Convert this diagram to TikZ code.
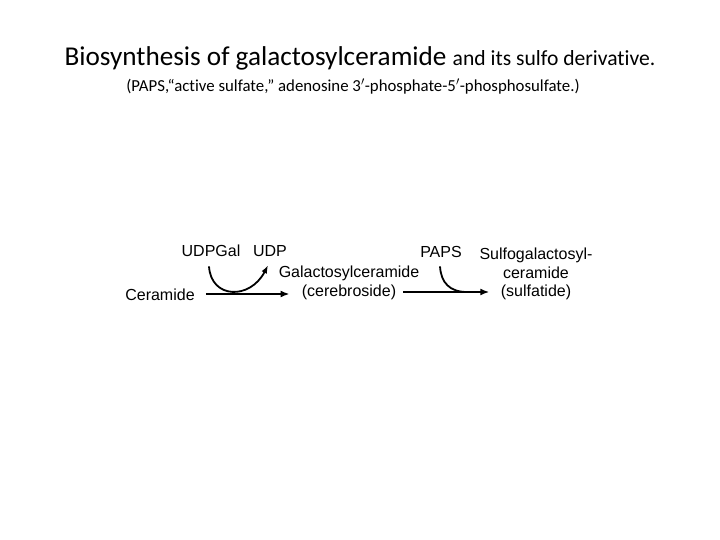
\documentclass[tikz,border=0pt]{standalone}
\usepackage{fontspec}
\setmainfont{Carlito}[Ligatures=NoCommon]
\newfontfamily\arialfont{Liberation Sans}
\usepackage{tikz}
\usetikzlibrary{arrows.meta, positioning, calc}
\definecolor{mydark}{RGB}{0,0,0}
\tikzset{
  cmpd/.style={inner sep=0pt, align=center, font=\arialfont\fontsize{16}{18.5}\selectfont, text=mydark},
  arrow/.style={-{Latex[length=9pt,width=7pt]}, line width=2.4pt, color=mydark},
  sidearrow/.style={-{Latex[length=8pt,width=6pt]}, line width=1.8pt, color=mydark}
}
\begin{document}
\begin{tikzpicture}[x=1pt, y=-1pt]
    \useasboundingbox (0,0) rectangle (720,540);
    % title
    \node[anchor=base, inner sep=0pt] (title) at (360,66)
      {\fontsize{27.2}{32}\selectfont Biosynthesis of galactosylceramide \fontsize{21.6}{26}\selectfont and its sulfo derivative.};
    \node[anchor=base, inner sep=0pt] (subtitle) at (353,92)
      {\fontsize{16.8}{20}\selectfont (PAPS,``active sulfate,'' adenosine 3$'$-phosphate-5$'$-phosphosulfate.)};
    % compounds
    \node[cmpd, anchor=base] (cer) at (160,300) {Ceramide};
    \node[cmpd, anchor=base] (udpgal) at (211,256) {UDPGal};
    \node[cmpd, anchor=base] (udp) at (270,256) {UDP};
    \node[cmpd] (galcer) at (349,283) {Galactosylceramide\\(cerebroside)};
    \node[cmpd, anchor=base] (paps) at (441,257) {PAPS};
    \node[cmpd] (sulf) at (536,274) {Sulfogalactosyl-\\ceramide\\(sulfatide)};
    % reactions
    \coordinate (a1) at ($(cer.base east)+(11,-6)$);
    \coordinate (a2) at ($(galcer.east)+(-16,9)$);
    \draw[arrow] (a1) -- ($(a1 -| galcer.west)+(11,0)$);
    \draw[arrow] (a2) -- ($(a2 -| sulf.west)+(10,0)$);
    \draw[sidearrow] ($(udpgal.south)+(-2,10)$) .. controls (211,299) and (250,300) .. ($(udp.south)+(-2,9)$);
    \draw[line width=1.8pt] ($(paps.south)+(-1,9)$) .. controls (441,283) and (450,292) .. (467,292);
\end{tikzpicture}
\end{document}
